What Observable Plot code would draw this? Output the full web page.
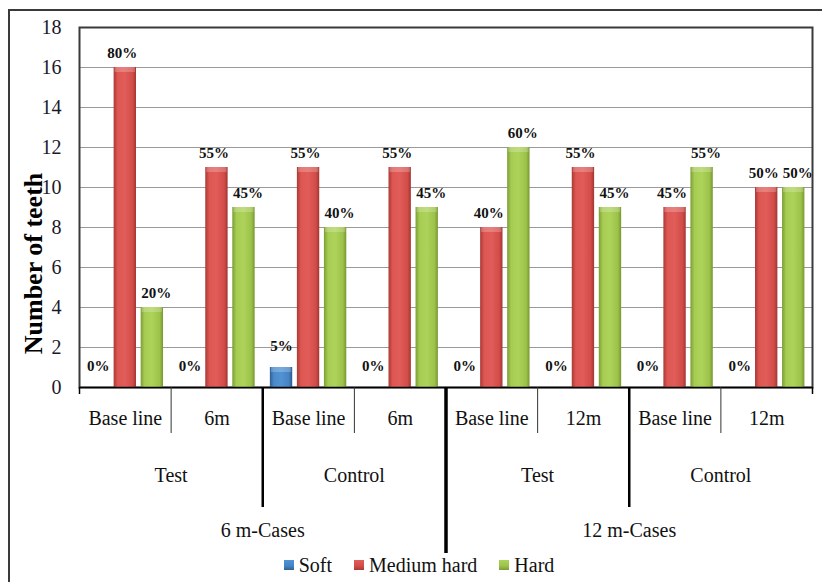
<!DOCTYPE html>
<html>
<head>
<meta charset="utf-8">
<script src="https://cdn.jsdelivr.net/npm/d3@7"></script>
<script src="https://cdn.jsdelivr.net/npm/@observablehq/plot@0.6"></script>
<style>
  html, body { margin: 0; padding: 0; background: #fff; }
  #wrap { position: relative; width: 822px; height: 582px; overflow: hidden; }
  #border { position: absolute; left: 8px; top: 9px; width: 900px; height: 700px;
            border-top: 2px solid #3a3a3a; border-left: 2px solid #3a3a3a; pointer-events: none; }
  #chart { position: absolute; left: 0; top: 0; }
  #legend { position: absolute; left: 0; top: 553px; width: 822px; display: flex; justify-content: center;
            padding-left: 16px; box-sizing: border-box; gap: 22px;
            font-family: "Liberation Serif", "Times New Roman", serif; font-size: 20px; color: #111; }
  #legend .item { display: flex; align-items: center; gap: 5px; line-height: 24px; }
  #legend .sw { width: 10px; height: 10px; display: inline-block; }
</style>
</head>
<body>
<div id="wrap">
  <div id="chart"></div>
  <div id="legend"></div>
  <div id="border"></div>
</div>
<script>
// Tooth hardness counts per study arm and visit (20 teeth per group)
const cohortLabels = ["6 m-Cases", "12 m-Cases"];
const armLabels = ["Test", "Control", "Test", "Control"];
const periodLabels = ["Base line", "6m", "Base line", "6m", "Base line", "12m", "Base line", "12m"];
const series = ["Soft", "Medium hard", "Hard"];
const soft = [0, 0, 1, 0, 0, 0, 0, 0];
const mediumHard = [16, 11, 11, 11, 8, 11, 9, 10];
const hard = [4, 9, 8, 9, 12, 9, 11, 10];
const yTicks = [0, 2, 4, 6, 8, 10, 12, 14, 16, 18];

const seriesColors = [
  ["#2f5f94", "#4a8acb", "#5293d4", "#4583c3", "#2c5a8c"],
  ["#a93935", "#dd5652", "#e15d59", "#d24c48", "#a13632"],
  ["#7c9d35", "#a6cc52", "#add35a", "#9cc24a", "#77972f"]
];
const gradIds = ["grad-soft", "grad-medium", "grad-hard"];

const valuesBySeries = [soft, mediumHard, hard];
const groups = periodLabels.map((period, g) => ({
  g, period,
  arm: armLabels[Math.floor(g / 2)],
  cohort: cohortLabels[Math.floor(g / 4)],
  total: d3.sum(valuesBySeries, v => v[g])
}));
const rows = groups.flatMap(grp => series.map((name, s) => ({
  g: grp.g, s, series: name, value: valuesBySeries[s][grp.g],
  pct: d3.format(".0%")(valuesBySeries[s][grp.g] / grp.total)
})));

// bar layout within each group (in group units)
const step = 0.295, half = 0.122;
const center = d => d.g + 0.5 + (d.s - 1) * step;

// separators between groups: thin within an arm, medium between arms, thick between cohorts
const bounds = d3.range(1, groups.length).map(b => ({
  b,
  kind: groups[b].cohort !== groups[b - 1].cohort ? "cohort"
      : Math.floor(b / 2) !== Math.floor((b - 1) / 2) ? "arm" : "period"
}));

const defs = () => {
  const d = d3.create("svg:defs");
  gradIds.forEach((id, i) => {
    const lg = d.append("linearGradient").attr("id", id).attr("x1", 0).attr("x2", 1).attr("y1", 0).attr("y2", 0);
    [0, 0.18, 0.5, 0.85, 1].forEach((o, k) => lg.append("stop").attr("offset", o).attr("stop-color", seriesColors[i][k]));
  });
  return d.node();
};

const serif = "Liberation Serif";
const labelStyle = { fontSize: 15, fontWeight: "bold", fontFamily: serif, fill: "#111", lineAnchor: "bottom" };
const tierStyle = { frameAnchor: "bottom", lineAnchor: "middle", fontSize: 20, fontFamily: serif, fill: "#111" };

const chart = Plot.plot({
  width: 822,
  height: 550,
  marginLeft: 79,
  marginRight: 10,
  marginTop: 27,
  marginBottom: 163,
  style: { fontFamily: serif, fontSize: "20px", color: "#111", overflow: "visible", background: "transparent" },
  x: { type: "linear", domain: [0, groups.length], axis: null },
  y: { domain: [0, 18], axis: null },
  color: { domain: series, range: gradIds.map(id => `url(#${id})`) },
  marks: [
    defs,
    Plot.gridY(yTicks.filter(t => t > 0 && t < 18), { stroke: "#9a9a9a", strokeOpacity: 1 }),
    Plot.frame({ stroke: "#3a3a3a", strokeWidth: 2 }),
    Plot.axisY({ ticks: yTicks, tickSize: 0, tickPadding: 18, fontSize: 20, fontFamily: serif, label: null, fill: "#1a1a2a" }),
    Plot.text(["Number of teeth"], {
      frameAnchor: "left", textAnchor: "middle", lineAnchor: "middle", rotate: -90, dx: -46, dy: 56,
      fontSize: 26, fontWeight: "bold", fontFamily: serif, fill: "#000"
    }),
    Plot.rectY(rows, {
      x1: d => center(d) - half, x2: d => center(d) + half,
      y: "value", fill: "series"
    }),
    // bevelled top edge of each bar
    Plot.rectY(rows.filter(d => d.value > 0), {
      x1: d => center(d) - half, x2: d => center(d) + half,
      y1: "value", y2: "value", insetBottom: -5, insetLeft: 1, insetRight: 1,
      fill: "#fff", fillOpacity: 0.22
    }),
    Plot.ruleY([0], { stroke: "#000", strokeWidth: 1.5 }),
    Plot.ruleX([0, groups.length], { y1: 0, y2: 0, insetBottom: -7, stroke: "#000", strokeWidth: 1.5 }),
    Plot.ruleX(bounds.filter(d => d.kind === "period"), { x: "b", y1: 0, y2: 0, insetBottom: -46, stroke: "#333", strokeWidth: 1 }),
    Plot.ruleX(bounds.filter(d => d.kind === "arm"), { x: "b", y1: 0, y2: 0, insetBottom: -120, stroke: "#000", strokeWidth: 2.5 }),
    Plot.ruleX(bounds.filter(d => d.kind === "cohort"), { x: "b", y1: 0, y2: 0, insetBottom: -166, stroke: "#000", strokeWidth: 3.5 }),
    // value labels (percent of the group's teeth)
    Plot.text(rows.filter(d => d.s === 0), { x: center, y: "value", text: "pct", dy: -17, ...labelStyle }),
    Plot.text(rows.filter(d => d.s === 1), { x: center, y: "value", text: "pct", dy: -10, dx: -3, ...labelStyle }),
    Plot.text(rows.filter(d => d.s === 2), { x: center, y: "value", text: "pct", dy: -10, dx: 4, ...labelStyle }),
    // category tiers
    Plot.text(groups, { x: d => d.g + 0.5, text: "period", dy: 31, ...tierStyle }),
    Plot.text(armLabels, { x: (d, i) => 2 * i + 1, text: d => d, dy: 88, ...tierStyle }),
    Plot.text(cohortLabels, { x: (d, i) => 4 * i + 2, text: d => d, dy: 143, ...tierStyle })
  ]
});
document.getElementById("chart").append(chart);

// legend
const legend = document.getElementById("legend");
series.forEach((name, i) => {
  const item = document.createElement("div");
  item.className = "item";
  const sw = document.createElement("span");
  sw.className = "sw";
  const c = seriesColors[i];
  sw.style.background = `linear-gradient(to bottom, ${c[2]}, ${c[3]} 60%, ${c[0]})`;
  const label = document.createElement("span");
  label.textContent = name;
  item.append(sw, label);
  legend.append(item);
});
</script>
</body>
</html>
